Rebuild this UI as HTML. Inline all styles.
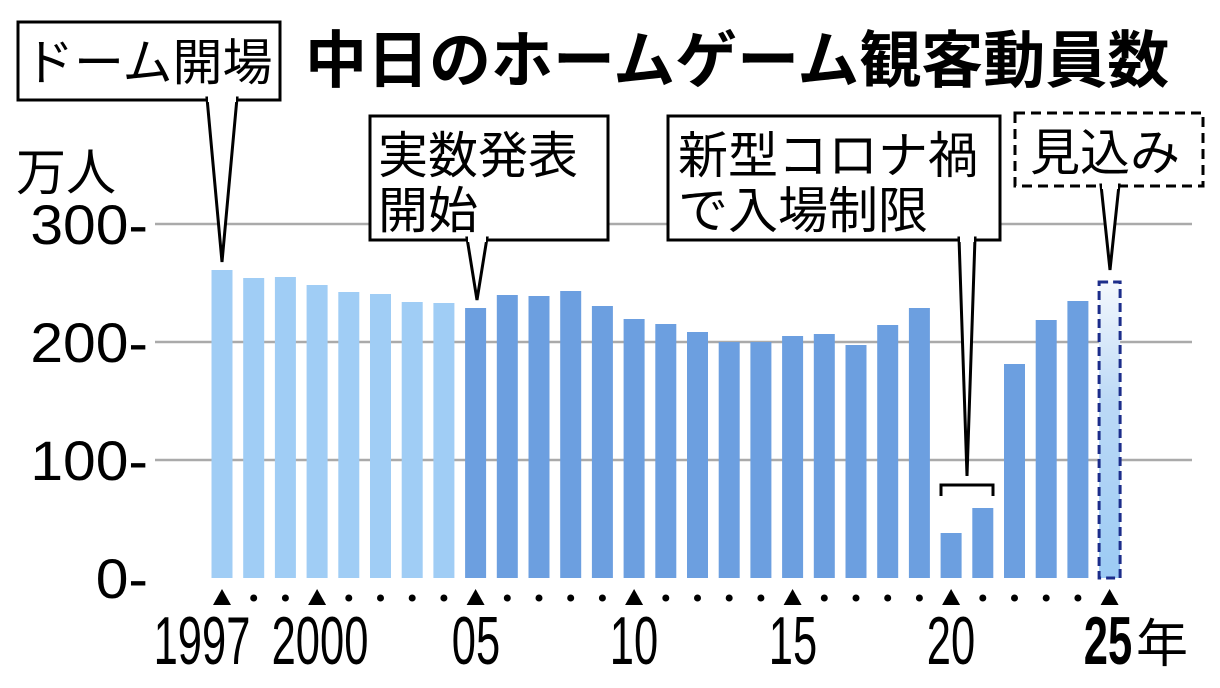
<!DOCTYPE html>
<html><head><meta charset="utf-8"><style>
body{margin:0;background:#fff;}
svg text{font-family:"Liberation Sans","Noto Sans CJK JP",sans-serif;}
</style></head><body>
<svg width="1220" height="683" viewBox="0 0 1220 683" xmlns="http://www.w3.org/2000/svg">
<defs><linearGradient id="g" x1="0" y1="0" x2="0" y2="1"><stop offset="0" stop-color="#f4f8fd"/><stop offset="0.4" stop-color="#bcd9f6"/><stop offset="1" stop-color="#9ccbf4"/></linearGradient></defs>
<g stroke="#aaa" stroke-width="2.5">
<line x1="155" y1="224" x2="1192" y2="224"/><line x1="155" y1="342" x2="1192" y2="342"/><line x1="155" y1="460" x2="1192" y2="460"/>
</g>
<g font-size="56" fill="#000" text-anchor="end">
<text transform="translate(148,244) scale(1.05,1)">300-</text>
<text transform="translate(148,362) scale(1.05,1)">200-</text>
<text transform="translate(148,480) scale(1.05,1)">100-</text>
<text transform="translate(148,598) scale(1.05,1)">0-</text>
</g>
<text x="16" y="190" font-size="50">万人</text>
<text x="305" y="82" font-size="62" font-weight="bold">中日のホームゲーム観客動員数</text>
<g fill="#a0cdf5">
<rect x="211.5" y="270" width="21" height="308"/>
<rect x="243.2" y="278" width="21" height="300"/>
<rect x="274.9" y="277" width="21" height="301"/>
<rect x="306.6" y="285" width="21" height="293"/>
<rect x="338.3" y="292" width="21" height="286"/>
<rect x="370" y="294" width="21" height="284"/>
<rect x="401.7" y="302" width="21" height="276"/>
<rect x="433.4" y="303" width="21" height="275"/>
</g>
<g fill="#6c9fe0">
<rect x="465.1" y="308" width="21" height="270"/>
<rect x="496.8" y="295" width="21" height="283"/>
<rect x="528.5" y="296" width="21" height="282"/>
<rect x="560.2" y="291" width="21" height="287"/>
<rect x="591.9" y="306" width="21" height="272"/>
<rect x="623.6" y="319" width="21" height="259"/>
<rect x="655.3" y="324" width="21" height="254"/>
<rect x="687" y="332" width="21" height="246"/>
<rect x="718.7" y="342" width="21" height="236"/>
<rect x="750.4" y="342" width="21" height="236"/>
<rect x="782.1" y="336" width="21" height="242"/>
<rect x="813.8" y="334" width="21" height="244"/>
<rect x="845.5" y="345" width="21" height="233"/>
<rect x="877.2" y="325" width="21" height="253"/>
<rect x="908.9" y="308" width="21" height="270"/>
<rect x="940.6" y="533" width="21" height="45"/>
<rect x="972.3" y="508" width="21" height="70"/>
<rect x="1004" y="364" width="21" height="214"/>
<rect x="1035.7" y="320" width="21" height="258"/>
<rect x="1067.4" y="301" width="21" height="277"/>
</g>
<rect x="1099.1" y="282" width="21" height="296" fill="url(#g)" stroke="#1c2d8a" stroke-width="3" stroke-dasharray="9,5"/>
<g fill="#000">
<polygon points="213,605 231,605 222,589"/>
<circle cx="253.7" cy="598" r="3.5"/><circle cx="285.4" cy="598" r="3.5"/>
<polygon points="308.1,605 326.1,605 317.1,589"/>
<circle cx="348.8" cy="598" r="3.5"/><circle cx="380.5" cy="598" r="3.5"/><circle cx="412.2" cy="598" r="3.5"/><circle cx="443.9" cy="598" r="3.5"/>
<polygon points="466.6,605 484.6,605 475.6,589"/>
<circle cx="507.3" cy="598" r="3.5"/><circle cx="539" cy="598" r="3.5"/><circle cx="570.7" cy="598" r="3.5"/><circle cx="602.4" cy="598" r="3.5"/>
<polygon points="625.1,605 643.1,605 634.1,589"/>
<circle cx="665.8" cy="598" r="3.5"/><circle cx="697.5" cy="598" r="3.5"/><circle cx="729.2" cy="598" r="3.5"/><circle cx="760.9" cy="598" r="3.5"/>
<polygon points="783.6,605 801.6,605 792.6,589"/>
<circle cx="824.3" cy="598" r="3.5"/><circle cx="856" cy="598" r="3.5"/><circle cx="887.7" cy="598" r="3.5"/><circle cx="919.4" cy="598" r="3.5"/>
<polygon points="942.1,605 960.1,605 951.1,589"/>
<circle cx="982.8" cy="598" r="3.5"/><circle cx="1014.5" cy="598" r="3.5"/><circle cx="1046.2" cy="598" r="3.5"/><circle cx="1077.9" cy="598" r="3.5"/>
<polygon points="1100.6,605 1118.6,605 1109.6,589"/>
</g>
<g font-size="68" fill="#000" text-anchor="middle">
<text transform="translate(202,664) scale(0.64,1)">1997</text>
<text transform="translate(320,664) scale(0.64,1)">2000</text>
<text transform="translate(476,664) scale(0.64,1)">05</text>
<text transform="translate(634,664) scale(0.64,1)">10</text>
<text transform="translate(793,664) scale(0.64,1)">15</text>
<text transform="translate(951,664) scale(0.64,1)">20</text>
<text transform="translate(1108,664) scale(0.64,1)" font-weight="bold">25</text>
</g>
<text x="1136" y="662" font-size="52">年</text>
<g fill="#fff" stroke="#000" stroke-width="3">
<rect x="18" y="22" width="262" height="78"/>
<polygon points="207,98 237,98 222,262"/>
<rect x="370" y="116" width="238" height="124"/>
<polygon points="467,238 487,238 477,300"/>
<rect x="668" y="116" width="332" height="124"/>
<polygon points="959,238 975,238 967,476"/>
<rect x="1015" y="113" width="188" height="73" stroke-dasharray="10,6"/>
<polygon points="1101,185 1119,185 1110,270"/>
</g>
<g fill="#fff" stroke="none">
<rect x="208" y="94" width="28" height="8"/><rect x="468" y="234" width="18" height="8"/><rect x="960" y="234" width="14" height="8"/><rect x="1102" y="181" width="16" height="8"/>
</g>
<path d="M941,496 V485 H993 V496" fill="none" stroke="#000" stroke-width="3"/>
<g font-size="50" fill="#000">
<text x="24" y="80">ドーム開場</text>
<text x="378" y="173">実数発表</text><text x="378" y="228">開始</text>
<text x="678" y="173">新型コロナ禍</text><text x="678" y="228">で入場制限</text>
<text x="1030" y="170">見込み</text>
</g>
</svg>
</body></html>
